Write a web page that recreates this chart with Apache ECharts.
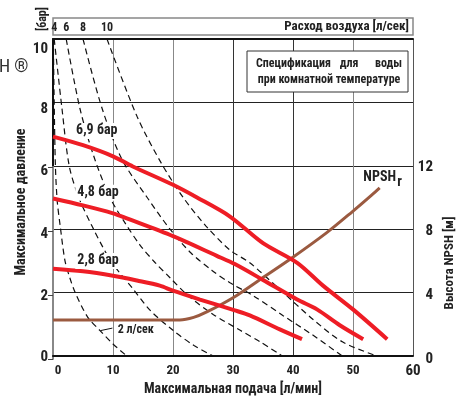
<!DOCTYPE html>
<html><head><meta charset="utf-8">
<script src="https://cdn.jsdelivr.net/npm/echarts@6/dist/echarts.min.js"></script>
<style>html,body{margin:0;padding:0;background:#fff}#c{width:464px;height:401px}</style>
</head><body><div id="c"></div>
<script>
// ---- data ----
const xTicks = [0, 10, 20, 30, 40, 50, 60];
const pressureTicks = [0, 2, 4, 6, 8, 10];
const npshTicks = [0, 4, 8, 12];
const airLabels = ['2 л/сек', '4', '6', '8', '10'];
// air consumption curves [flow l/min, pressure bar]
const air2 = [[0.05,10],[0.2,8],[0.4,6],[0.7,4.9],[1.2,4.1],[2.0,3.0],[2.8,2.47],[3.7,2.0],[5.8,1.22],[7.8,0.81],[10,0.38],[12.3,0]];
const air4 = [[0.2,10],[1.5,7.8],[2.7,6],[4.3,5.0],[6.5,4.1],[9,3.2],[11,2.65],[13.2,2.15],[16.2,1.44],[20,0.81],[23.5,0.33],[26.7,0]];
const air6 = [[2.2,10],[4.5,7.8],[6.8,6.3],[9.5,5.0],[12,4.2],[14.5,3.5],[17,2.95],[19.5,2.47],[22.3,1.94],[26.7,1.31],[31.2,0.81],[34.5,0.45],[38.2,0]];
const air8 = [[5,10],[8.2,7.8],[11.5,6.2],[15.7,5.0],[19.5,4.0],[23,3.25],[26.5,2.7],[29.5,2.31],[33.3,1.91],[38.3,1.28],[43.3,0.66],[48.2,0]];
const air10 = [[9,10],[14,7.56],[18,6.1],[21.7,5.0],[25.5,4.1],[29.5,3.34],[32.8,2.94],[37.8,2.1],[43.3,1.16],[48.3,0.44],[54,0]];
// performance curves at inlet air pressure
const p69 = [[0,6.92],[5,6.65],[10,6.3],[13.3,5.98],[20,5.4],[24,5.0],[29.5,4.4],[35,3.56],[40.7,2.94],[45,2.22],[50,1.47],[55.7,0.53]];
const p48 = [[0,4.97],[5,4.75],[10,4.5],[12.3,4.34],[20,3.78],[27.3,3.16],[30.3,2.9],[35,2.4],[40.7,1.78],[44,1.47],[47.8,0.97],[51.7,0.53]];
const p28 = [[0,2.75],[5,2.67],[10,2.53],[14,2.38],[17.8,2.22],[20,2.06],[24.5,1.78],[30.3,1.44],[32.8,1.28],[37.8,0.84],[41.5,0.53]];
// NPSHr [flow l/min, m]
const npsh = [[0,2.44],[21.2,2.44],[23.5,2.6],[25.7,2.94],[30.3,3.88],[34.5,4.94],[39.5,6.2],[45.7,7.88],[50,9.2],[53.3,10.26],[54.6,10.7]];
const curveNames = ['6,9 бар', '4,8 бар', '2,8 бар'];
const labelAt = {p69:[7.3,7.1], p48:[7.5,5.15], p28:[7.5,3.0], npsh:[54.6,11.35], air2:[13.8,0.82], leader:[[7.9,0.8],[9.9,0.88]]};

// ---- chart ----
const F = "'Liberation Sans Narrow','Arial Narrow','Roboto Condensed','DejaVu Sans Condensed',Arial,sans-serif";
const RED = '#ee1d25', BROWN = '#9b5a40';
const txt = (size) => ({fontFamily:F, fontWeight:'bold', fontSize:size, color:'#222'});
const ptLabel = (coord, text, extra) => ({coord, value:text, symbol:'circle', symbolSize:1,
  itemStyle:{color:'rgba(0,0,0,0)'},
  label:Object.assign({show:true, position:'inside', formatter:text, ...txt(14),
    backgroundColor:'#fff', padding:[1,2]}, extra||{})});

function dashed(data, top) {
  const s = {type:'line', data, xAxisIndex:0, yAxisIndex:0, smooth:0.3, showSymbol:false, silent:true,
    lineStyle:{color:'#111', width:1.2, type:[6,4]}, z:2};
  if (top) s.markPoint = {silent:true, data:[ptLabel(data[0], top, {position:'top', distance:5, fontSize:12, backgroundColor:'transparent', padding:0})]};
  return s;
}
function perf(data, label, at) {
  return {type:'line', data, xAxisIndex:0, yAxisIndex:0, smooth:0.3, showSymbol:false, silent:true,
    lineStyle:{color:RED, width:4}, z:4,
    markPoint:{silent:true, data:[ptLabel(at, label)]}};
}
// per-tick vertical nudge of left labels (as in the original artwork)
const yRich = {};
[[0,2],[2,8],[4,10],[6,10],[8,14],[10,20]].forEach(([v,p]) => { yRich['t'+v] = {...txt(15), padding:[p,0,0,0]}; });

const chart = echarts.init(document.getElementById('c'), null, {renderer:'canvas'});
chart.setOption({
  animation:false,
  grid:[{left:53, right:51, top:39, bottom:42}, {left:53, right:51, top:167, bottom:42}],
  xAxis:[
    {gridIndex:0, type:'value', min:xTicks[0], max:xTicks[xTicks.length-1], interval:10,
      axisLine:{lineStyle:{color:'#111', width:2}}, axisTick:{show:false},
      axisLabel:{margin:8, ...txt(13), formatter:v => v===60 ? '{b|60}' : (v===0 ? '{z|0}' : String(v)),
        rich:{b:{...txt(15)}, z:{...txt(13), padding:[0,0,0,10]}}},
      splitLine:{show:true, lineStyle:{color:['#777','#888','#888','#333','#333','#888','#555'], width:1}},
      name:'Максимальная подача [л/мин]', nameLocation:'middle', nameGap:26, nameMoveOverlap:false, nameTextStyle:txt(14)},
    {gridIndex:0, type:'value', position:'top', min:0, max:60, axisLine:{show:true, lineStyle:{color:'#111', width:2}},
      axisTick:{show:false}, axisLabel:{show:false}, splitLine:{show:false}},
    {gridIndex:1, type:'value', min:0, max:60, show:false}
  ],
  yAxis:[
    {gridIndex:0, type:'value', min:pressureTicks[0], max:pressureTicks[pressureTicks.length-1], interval:2,
      axisLine:{show:true, lineStyle:{color:'#111', width:2}}, axisTick:{show:false},
      axisLabel:{margin:5, ...txt(15), formatter:v => `{t${v}|${v}}`, rich:yRich},
      splitLine:{show:true, lineStyle:{color:'#222', width:1}}},
    {gridIndex:1, type:'value', position:'right', offset:6, min:npshTicks[0], max:npshTicks[npshTicks.length-1], interval:4,
      axisLine:{show:true, lineStyle:{color:'#888', width:2}}, axisTick:{show:true, inside:true, length:5, lineStyle:{color:'#444', width:1}},
      axisLabel:{align:'right', margin:15, ...txt(15)}, splitLine:{show:false},
      name:'Высота NPSH [м]', nameLocation:'middle', nameGap:25, nameRotate:90, nameMoveOverlap:false, nameTextStyle:txt(13)}
  ],
  series:[
    Object.assign(dashed(air2, null), {
      markLine:{silent:true, symbol:'none', label:{show:false}, lineStyle:{color:'#111', width:1, type:'solid'},
        data:[[{coord:labelAt.leader[0]},{coord:labelAt.leader[1]}]]}}),
    dashed(air4, airLabels[1]),
    dashed(air6, airLabels[2]),
    dashed(air8, airLabels[3]),
    dashed(air10, airLabels[4]),
    {type:'line', data:npsh, xAxisIndex:2, yAxisIndex:1, smooth:0.3, showSymbol:false, silent:true,
      lineStyle:{color:BROWN, width:3}, z:3,
      markPoint:{silent:true, data:[
        ptLabel(labelAt.npsh, 'NPSH', {backgroundColor:'transparent', fontSize:14}),
        ptLabel(labelAt.npsh, 'r', {backgroundColor:'transparent', fontSize:14, offset:[20,5]})]}},
    perf(p69, curveNames[0], labelAt.p69),
    perf(p48, curveNames[1], labelAt.p48),
    perf(p28, curveNames[2], labelAt.p28),
    {type:'line', data:[], xAxisIndex:0, yAxisIndex:0, z:5,
      markPoint:{silent:true, data:[ptLabel(labelAt.air2, airLabels[0], {fontSize:12})]}}
  ],
  graphic:[
    {type:'text', z:101, x:21, y:202, rotation:Math.PI/2, style:{text:'Максимальное давление', font:'bold 14px '+F, fill:'#222', textAlign:'center', textVerticalAlign:'middle'}},
    {type:'rect', z:1, shape:{x:53, y:18, width:360, height:17}, style:{fill:'none', stroke:'#888', lineWidth:1.5}},
    {type:'text', z:101, x:409, y:27, style:{text:'Расход воздуха [л/сек]', font:'bold 13px '+F, fill:'#222', textAlign:'right', textVerticalAlign:'middle'}},
    {type:'text', z:101, x:43, y:19, rotation:Math.PI/2, style:{text:'[бар]', font:'bold 12px '+F, fill:'#222', textAlign:'center', textVerticalAlign:'middle'}},
    {type:'text', z:101, x:-1, y:67, style:{text:'H ®', font:'18px '+F, fill:'#333', textVerticalAlign:'middle'}},
    {type:'rect', z:100, shape:{x:247, y:51, width:161, height:41}, style:{fill:'#fff', stroke:'#333', lineWidth:1}},
    {type:'text', z:101, x:256, y:64, style:{text:'Спецификация', font:'bold 12px '+F, fill:'#222', textVerticalAlign:'middle'}},
    {type:'text', z:101, x:349, y:64, style:{text:'для', font:'bold 12px '+F, fill:'#222', textAlign:'center', textVerticalAlign:'middle'}},
    {type:'text', z:101, x:402, y:64, style:{text:'воды', font:'bold 12px '+F, fill:'#222', textAlign:'right', textVerticalAlign:'middle'}},
    {type:'text', z:101, x:329, y:80, style:{text:'при комнатной температуре', font:'bold 12px '+F, fill:'#222', textAlign:'center', textVerticalAlign:'middle'}}
  ]
});
</script></body></html>
